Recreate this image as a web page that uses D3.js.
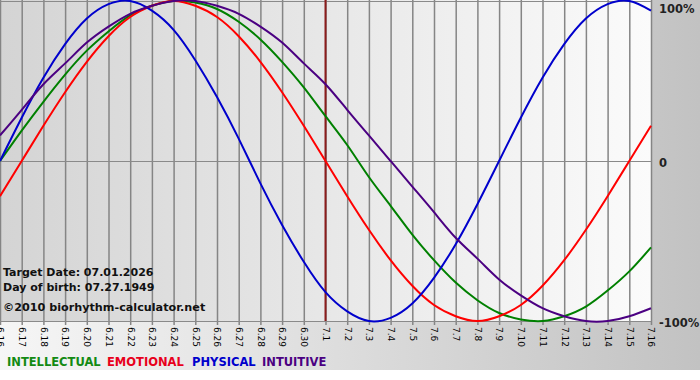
<!DOCTYPE html>
<html>
<head>
<meta charset="utf-8">
<script src="https://cdnjs.cloudflare.com/ajax/libs/d3/7.8.5/d3.min.js"></script>
<style>
    body { margin: 0; background: #fff; }
    text { font-family: "DejaVu Sans", Verdana, sans-serif; font-weight: bold; }
</style>
</head>
<body>
<div id="chart"></div>
<script>
// day labels 6.16 .. 7.16
const days = [
    '6.16', '6.17', '6.18', '6.19', '6.20', '6.21', '6.22', '6.23', '6.24', '6.25',
    '6.26', '6.27', '6.28', '6.29', '6.30', '7.1', '7.2', '7.3', '7.4', '7.5',
    '7.6', '7.7', '7.8', '7.9', '7.10', '7.11', '7.12', '7.13', '7.14', '7.15', '7.16'
]

// values in percent, one per day
const physical = [0, 27, 52, 73, 89, 98, 100, 94, 82, 63, 40, 14, -14, -40, -63, -82,
    -94, -100, -98, -89, -73, -52, -27, 0, 27, 52, 73, 89, 98, 100, 94]
const emotional = [-22, 0, 22, 43, 62, 78, 90, 97, 100, 97, 90, 78, 62, 43, 22, 0,
    -22, -43, -62, -78, -90, -97, -100, -97, -90, -78, -62, -43, -22, 0, 22]
const intellectual = [0, 19, 37, 54, 69, 81, 91, 97, 100, 99, 95, 87, 76, 62, 46, 28,
    10, -10, -28, -46, -62, -76, -87, -95, -99, -100, -97, -91, -81, -69, -54]
const intuitive = [16, 32, 48, 61, 74, 84, 92, 97, 100, 100, 97, 92, 84, 74, 61, 48,
    32, 16, 0, -16, -32, -48, -61, -74, -84, -92, -97, -100, -100, -97, -92]

const y_ticks = [100, 0, -100]
const y_tick_labels = ['100%', '0', '-100%']
const target_day = 15
const info_lines = ['Target Date: 07.01.2026', 'Day of birth: 07.27.1949']
const copyright = '\u00a92010 biorhythm-calculator.net'

const legend = ['INTELLECTUAL', 'EMOTIONAL', 'PHYSICAL', 'INTUITIVE']
const colors = ['#008000', '#ff0000', '#0000cc', '#4b0082']
const legend_colors = ['#138a13', '#e8001c', '#0000cc', '#4b0082']

const chart_width = 700
const chart_height = 380
const plot_right = 651
const plot_top = 1
const plot_bottom = 321

var svg = d3.select('#chart')
    .append('svg')
    .attr('width', chart_width)
    .attr('height', chart_height)

// gradients
var defs = svg.append('defs')
var outer = defs.append('linearGradient').attr('id', 'outer')
outer.append('stop').attr('offset', '0%').attr('stop-color', '#f6f6f6')
outer.append('stop').attr('offset', '100%').attr('stop-color', '#c2c2c2')
var inner = defs.append('linearGradient').attr('id', 'inner')
inner.append('stop').attr('offset', '0%').attr('stop-color', '#d4d4d4')
inner.append('stop').attr('offset', '100%').attr('stop-color', '#fbfbfb')

svg.append('rect')
    .attr('width', chart_width)
    .attr('height', 370)
    .attr('fill', 'url(#outer)')
svg.append('rect')
    .attr('width', plot_right)
    .attr('height', plot_bottom)
    .attr('fill', 'url(#inner)')

// scales
var x_scale = d3.scaleLinear()
    .domain([0, days.length - 1])
    .range([0, plot_right])
var y_scale = d3.scaleLinear()
    .domain([-100, 100])
    .range([plot_bottom, plot_top])

// vertical day lines + tick labels
var x_axis = d3.axisBottom(x_scale)
    .tickValues(d3.range(days.length))
    .tickFormat(function(d){ return days[d] })
    .tickSize(plot_bottom + 4)
    .tickSizeOuter(0)
var gx = svg.append('g')
    .attr('class', 'x-axis')
    .call(x_axis)
gx.select('.domain').remove()
gx.selectAll('line')
    .attr('stroke', '#858585')
    .attr('stroke-width', 1.5)
gx.selectAll('text')
    .attr('transform', 'translate(0,' + (plot_bottom + 6) + ') rotate(90)')
    .attr('x', 0)
    .attr('y', 0)
    .attr('dy', '0.35em')
    .attr('text-anchor', 'start')
    .style('font-weight', 'normal')
    .style('font-size', '9px')
    .attr('fill', '#000')

// horizontal lines + right labels
var y_axis = d3.axisRight(y_scale)
    .tickValues(y_ticks)
    .tickFormat(function(d, i){ return y_tick_labels[i] })
    .tickSize(plot_right)
    .tickPadding(8)
var gy = svg.append('g')
    .attr('class', 'y-axis')
    .call(y_axis)
gy.select('.domain').remove()
gy.selectAll('line')
    .attr('stroke', '#8a8a8a')
    .attr('stroke-width', 1.2)
gy.selectAll('text')
    // top label sits below its line so it stays inside the picture
    .attr('y', function(d){ return d === 100 ? 7 : 1 })
    .attr('dy', '0.35em')
    .style('font-size', '11.5px')
    .attr('fill', '#222')

// info texts
svg.append('g')
    .selectAll('text')
    .data(info_lines)
    .enter()
    .append('text')
    .attr('x', 3)
    .attr('y', function(d, i){ return 276 + i * 15 })
    .style('font-size', '11px')
    .attr('fill', '#111')
    .text(function(d){ return d })
svg.append('text')
    .attr('x', 3)
    .attr('y', 311)
    .style('font-size', '11.2px')
    .attr('fill', '#111')
    .text(copyright)

// target date line
svg.append('line')
    .attr('x1', x_scale(target_day))
    .attr('x2', x_scale(target_day))
    .attr('y1', 0)
    .attr('y2', plot_bottom)
    .attr('stroke', '#8b1c1c')
    .attr('stroke-width', 2)

// curves
var series = [intellectual, emotional, physical, intuitive]
var line = d3.line()
    .x(function(d, i){ return x_scale(i) })
    .y(function(d){ return y_scale(d) })
    .curve(d3.curveNatural)
svg.append('g')
    .attr('class', 'curves')
    .selectAll('path')
    .data(series)
    .enter()
    .append('path')
    .attr('d', line)
    .attr('fill', 'none')
    .attr('stroke', function(d, i){ return colors[i] })
    .attr('stroke-width', 2)

// legend
var lx = [7, 107, 192, 262]
svg.append('g')
    .selectAll('text')
    .data(legend)
    .enter()
    .append('text')
    .attr('x', function(d, i){ return lx[i] })
    .attr('y', 366)
    .style('font-size', '11.5px')
    .attr('fill', function(d, i){ return legend_colors[i] })
    .text(function(d){ return d })
</script>
</body>
</html>
